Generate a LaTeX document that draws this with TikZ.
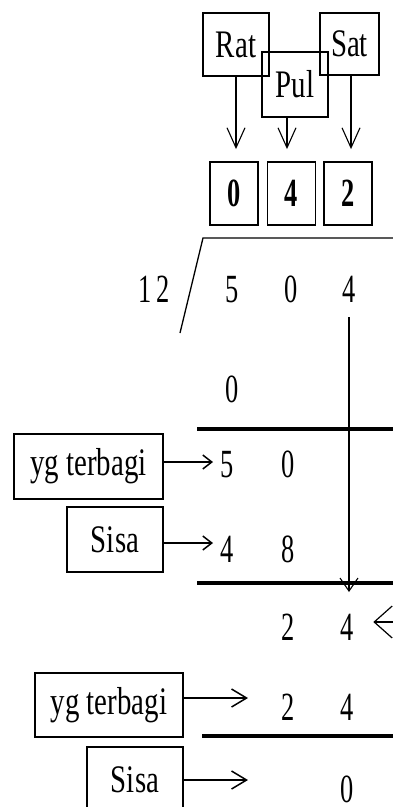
\documentclass[tikz,border=0pt]{standalone}
\usepackage{fontspec}
\setmainfont{Liberation Serif}
\newfontfamily\wordfont{Liberation Serif}[FakeStretch=0.74]
\newfontfamily\digfont{Liberation Serif}[FakeStretch=0.66]
\usetikzlibrary{arrows.meta}
\begin{document}
\begin{tikzpicture}[x=1pt,y=-1pt,
  lbl/.style={draw, line width=1.6pt, inner sep=0pt, font=\wordfont\fontsize{39}{39}\selectfont},
  dbox/.style={draw, line width=1.8pt, inner sep=0pt, minimum width=48pt, minimum height=63pt, font=\digfont\bfseries\fontsize{40}{40}\selectfont},
  dig/.style={inner sep=0pt, anchor=base, font=\digfont\fontsize{40}{40}\selectfont},
  rulel/.style={line width=3.2pt},
  thinl/.style={line width=1.3pt},
  varr/.style={line width=1.1pt, -{Straight Barb[length=20pt,width=18pt]}},
  harr/.style={line width=1.5pt, -{Straight Barb[length=9pt,width=14pt]}},
  harrb/.style={line width=1.5pt, -{Straight Barb[length=15pt,width=18pt]}},
  larr/.style={line width=1.2pt, -{Straight Barb[length=18pt,width=32pt]}}]
\useasboundingbox[fill=white] (0,0) rectangle (393,807);

% top labels
\node[lbl, minimum width=66pt, minimum height=63pt] (rat) at (236,44.5) {Rat};
\node[lbl, minimum width=59pt, minimum height=62pt] (sat) at (349.5,44) {Sat};
\node[lbl, minimum width=66pt, minimum height=65pt] (pul) at (295,84.5) {Pul};

% quotient boxes
\node[dbox] (d0) at (234,193.5) {0};
\node[dbox] (d4) at (291.5,193.5) {4};
\node[dbox] (d2) at (348,193.5) {2};

\draw[varr, shorten >=12pt] (rat.south) -- (rat.south |- d0.north);
\draw[varr, shorten >=12pt] ([xshift=-8pt]pul.south) -- ([xshift=-8pt]pul.south |- d4.north);
\draw[varr, shorten >=12pt] ([xshift=1.5pt]sat.south) -- ([xshift=1.5pt]sat.south |- d2.north);

% division bracket
\coordinate (bt) at (203,238);
\coordinate (br) at (395,238);
\coordinate (bb) at (180,333);
\draw[thinl] (bb) -- (bt) -- (br);

\node[dig] (dv) at (154,302) {1\hspace{5pt}2};
\node[dig] (n5) at (232,302) {5};
\node[dig] (n0) at (291,302) {0};
\node[dig] (n4) at (349,302) {4};

\node[dig] (p0) at (232,402) {0};
\draw[rulel] (197,429) -- (395,429);

% yg terbagi / Sisa 1
\node[dig] (a5) at (227.5,477) {5};
\node[dig] (a0) at (288,477) {0};
\node[dig] (b4) at (227.5,562) {4};
\node[dig] (b8) at (288,562) {8};
\node[lbl, minimum width=149pt, minimum height=65pt] (yg1) at (88.5,466.5) {yg terbagi};
\node[lbl, minimum width=96pt, minimum height=65pt] (sisa1) at (115,539.5) {Sisa};
\coordinate (t1) at (213,462);
\coordinate (t2) at (213,543);
\draw[harr] (yg1.east |- t1) -- (t1);
\draw[harr] (sisa1.east |- t2) -- (t2);

\draw[rulel] (197,583) -- (395,583);

% vertical bring-down line
\coordinate (vt) at (349,592);
\draw[line width=1.1pt, -{Straight Barb[length=13pt,width=18pt]}, shorten <=15pt] (n4.south) -- (vt);

% row 2 4
\node[dig] (m2) at (288.5,640) {2};
\node[dig] (m4) at (347.5,640) {4};
\coordinate (ra) at (395,622);
\draw[larr, shorten >=19pt] (ra) -- (ra -| m4.east);

% yg terbagi / Sisa 2
\node[dig] (c2) at (288.5,720) {2};
\node[dig] (c4) at (347.5,720) {4};
\node[lbl, minimum width=148pt, minimum height=64pt] (yg2) at (109,705) {yg terbagi};
\coordinate (t3) at (248,698);
\draw[harrb] (yg2.east |- t3) -- (t3);

\draw[rulel] (202,736) -- (395,736);

\node[lbl, minimum width=96pt, minimum height=65pt] (sisa2) at (135,779.5) {Sisa};
\node[dig] (e0) at (347.5,802) {0};
\coordinate (t4) at (248,780);
\draw[harrb] (sisa2.east |- t4) -- (t4);
\end{tikzpicture}
\end{document}
